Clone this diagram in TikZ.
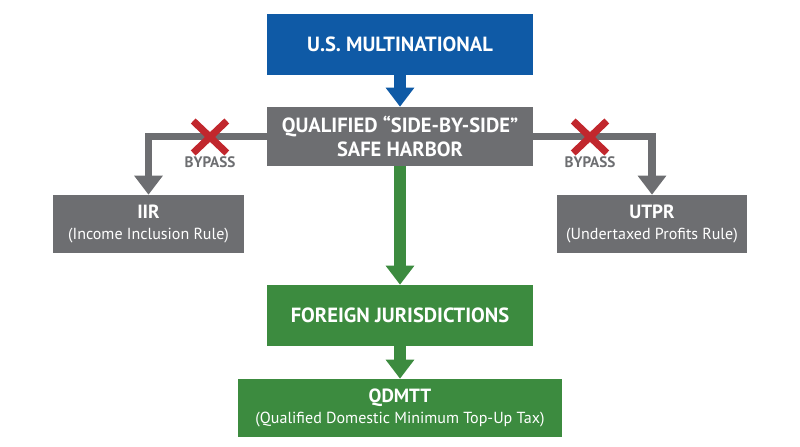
\documentclass[tikz,border=0pt]{standalone}
\usepackage{fontspec}
\setmainfont{PT Sans}
\usetikzlibrary{arrows.meta,calc}

\definecolor{usblue}{HTML}{0F5AA6}
\definecolor{boxgray}{HTML}{6D6E71}
\definecolor{taxgreen}{HTML}{3C8B3F}
\definecolor{crossred}{HTML}{C1272D}

\begin{document}
\begin{tikzpicture}[
box/.style={draw=none, text=white, align=center, inner sep=0pt,
  font=\bfseries\fontsize{14.6}{17.5}\selectfont},
sidebox/.style={box, font=\fontsize{11.4}{14.5}\selectfont},
bigarrow/.style={line width=9.2pt, -{Triangle[width=19.5pt, length=13.5pt]}},
sidearrow/.style={line width=5pt, boxgray, -{Triangle[width=19.5pt, length=13.5pt]}},
cross/.style={crossred, line width=5pt},
bypass/.style={text=boxgray, font=\bfseries\fontsize{10.8}{12}\selectfont}
]
\useasboundingbox (0,0) rectangle (20,11.175);

% boxes
\node[box, fill=usblue, minimum width=6.65cm, minimum height=1.525cm] (usmnc) at (10,10.0625) {U.S. MULTINATIONAL};
\node[box, fill=boxgray, minimum width=6.65cm, minimum height=1.475cm] (harbor) at (10,7.7625)
  {QUALIFIED “SIDE-BY-SIDE”\\[-0.5pt] SAFE HARBOR};
\node[sidebox, fill=boxgray, minimum width=4.775cm, minimum height=1.45cm] (iir) at (3.7125,5.575)
  {{\bfseries\fontsize{13.6}{15}\selectfont IIR}\\(Income Inclusion Rule)};
\node[sidebox, fill=boxgray, minimum width=4.75cm, minimum height=1.45cm] (utpr) at (16.3,5.575)
  {{\bfseries\fontsize{13.6}{15}\selectfont UTPR}\\(Undertaxed Profits Rule)};
\node[box, fill=taxgreen, minimum width=6.65cm, minimum height=1.525cm] (foreign) at (10,3.2875) {FOREIGN JURISDICTIONS};
\node[sidebox, fill=taxgreen, minimum width=8.1cm, minimum height=1.45cm] (qdmtt) at (10,0.975)
  {{\bfseries\fontsize{13.6}{15}\selectfont QDMTT}\\(Qualified Domestic Minimum Top-Up Tax)};

% arrows
\draw[bigarrow, usblue] (usmnc.south) -- (harbor.north);
\draw[bigarrow, taxgreen] (harbor.south) -- (foreign.north);
\draw[bigarrow, taxgreen] (foreign.south) -- (qdmtt.north);
\draw[sidearrow] (harbor.west) -| (iir.north);
\draw[sidearrow] (harbor.east) -| (utpr.north);

% bypass marks
\coordinate (xl) at (5.25,7.75);
\coordinate (xr) at (14.75,7.75);
\foreach \c in {xl,xr} {
  \draw[cross] ($(\c)+(-0.42,0.4)$) -- ($(\c)+(0.42,-0.4)$);
  \draw[cross] ($(\c)+(-0.42,-0.4)$) -- ($(\c)+(0.42,0.4)$);
  \node[bypass] (\c-text) at ($(\c)+(0,-0.64)$) {BYPASS};
}
\end{tikzpicture}
\end{document}
